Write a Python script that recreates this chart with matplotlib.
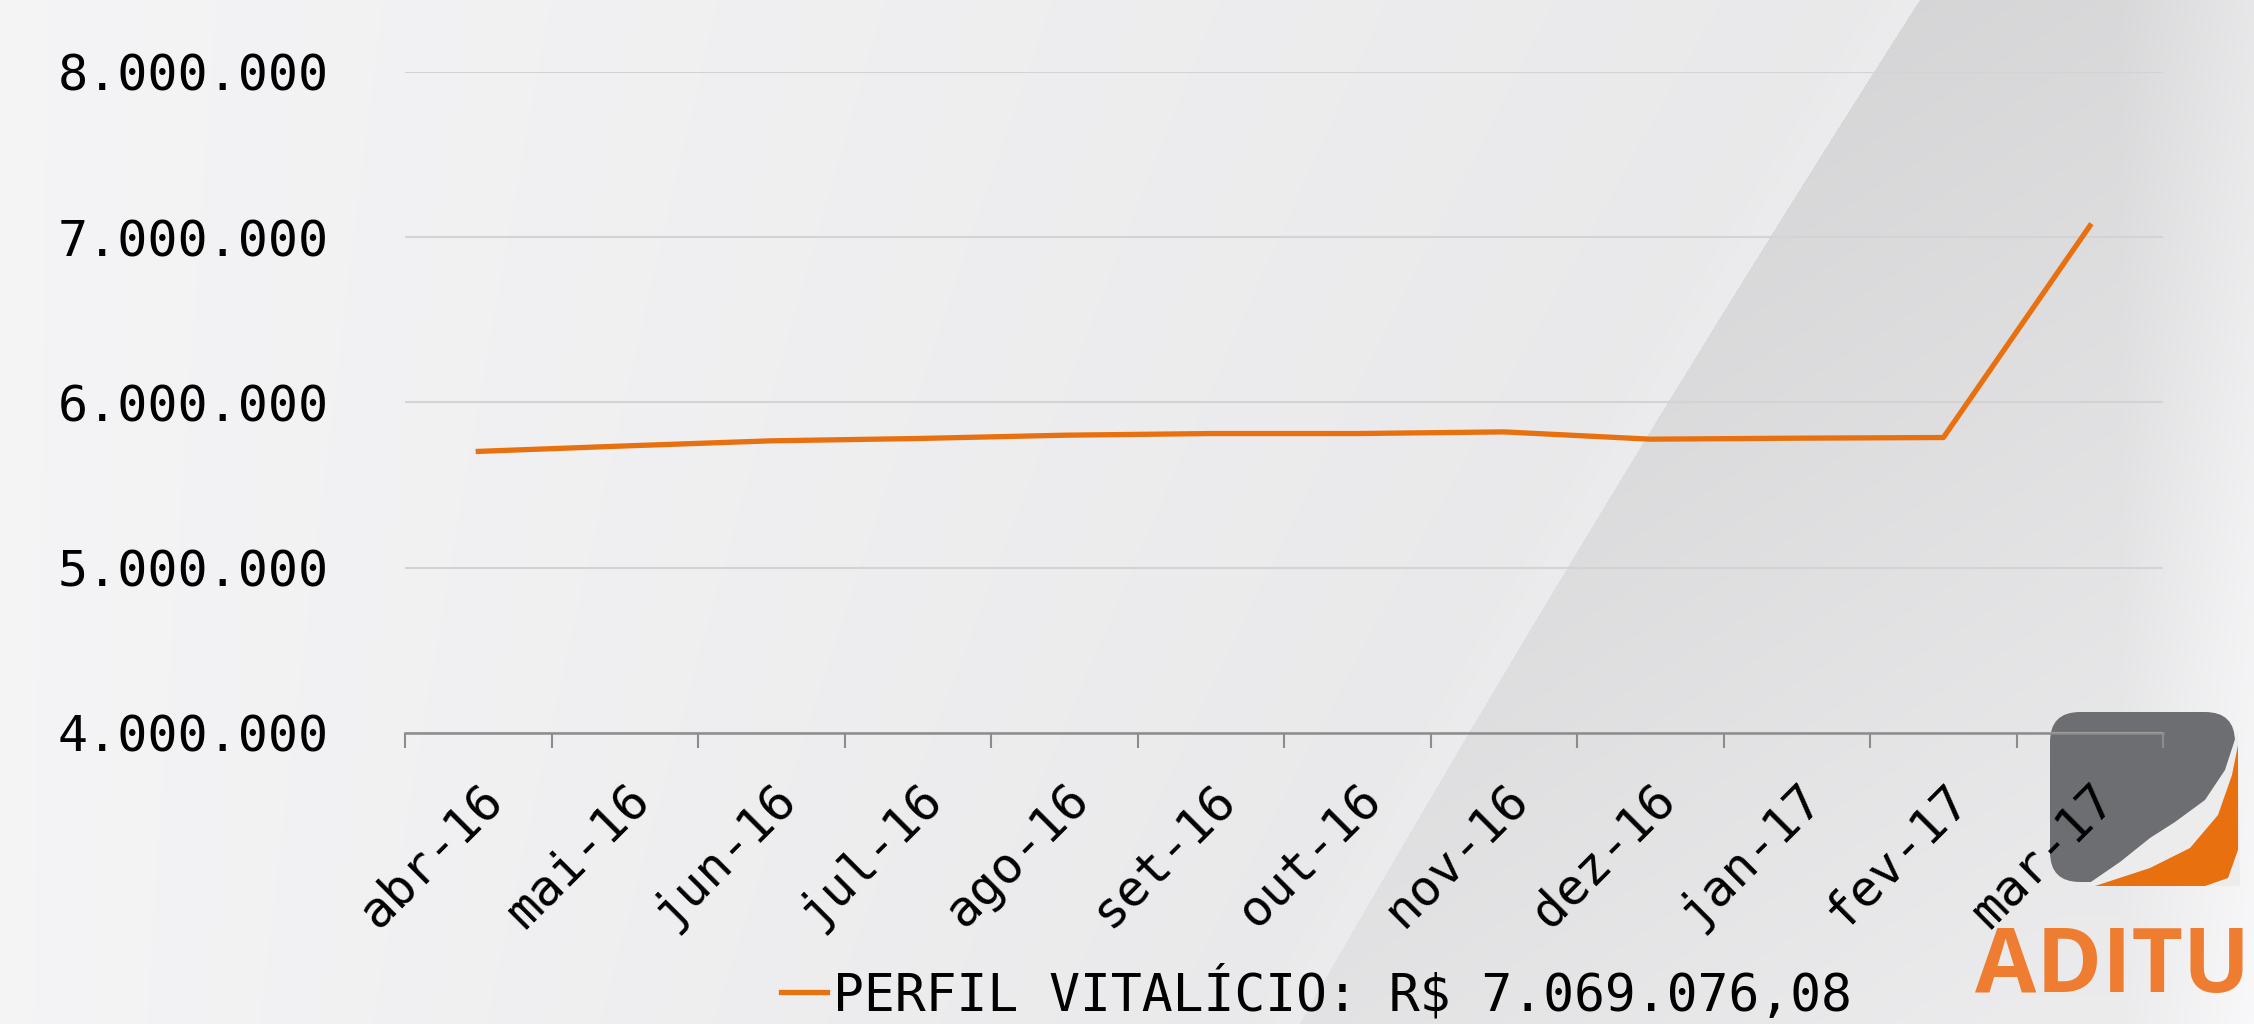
import numpy as np
import matplotlib
matplotlib.use('Agg')
import matplotlib.pyplot as plt
from matplotlib.patches import FancyBboxPatch, Polygon

# Dados
meses = ['abr-16', 'mai-16', 'jun-16', 'jul-16', 'ago-16', 'set-16',
         'out-16', 'nov-16', 'dez-16', 'jan-17', 'fev-17', 'mar-17']
valores = [5704000, 5737000, 5768000, 5782000, 5802000, 5812000,
           5812000, 5822000, 5778000, 5784000, 5788000, 7069076.08]
y_ticks = [4000000, 5000000, 6000000, 7000000, 8000000]
legenda = 'PERFIL VITALÍCIO: R$ 7.069.076,08'

laranja = '#e8700f'
fonte = 'DejaVu Sans Mono'

W, H = 2254, 1024
fig = plt.figure(figsize=(W / 100, H / 100), dpi=100)

# Fundo: degradê cinza com faixa diagonal mais escura à direita
bg = fig.add_axes([0, 0, 1, 1], zorder=-10)
bg.set_xlim(0, W)
bg.set_ylim(H, 0)
bg.axis('off')
yy, xx = np.mgrid[0:H, 0:W].astype(float)
coef = np.polyfit([0, 316, 575, 733, 1024], [1925, 1703, 1572, 1475, 1294], 2)
borda = np.polyval(coef, yy)
fora = 0.958 - 0.045 * np.clip(xx / borda, 0, 1)
brilho = 0.012 * np.exp(-((borda - xx) / 40.0) ** 2) * (xx < borda)
dentro = (0.838 + 0.05 * (yy / H)
          + 0.035 * np.clip((xx - borda) / 700, 0, 1)
          + 0.05 * np.clip((xx - 2120) / 130, 0, 1))
cinza = np.where(xx < borda, fora + brilho, dentro)
img = np.dstack([cinza, cinza, cinza + 0.006])
bg.imshow(np.clip(img, 0, 1), extent=[0, W, H, 0], aspect='auto')

# Logo ADITUS
logo = FancyBboxPatch((2050, 712), 185, 170,
                      boxstyle='round,pad=0,rounding_size=30',
                      facecolor='#6d6e71', edgecolor='none')
bg.add_patch(logo)
bg.add_patch(Polygon([(2085, 886), (2120, 862), (2150, 838), (2175, 822),
                      (2205, 800), (2225, 770), (2238, 730), (2240, 886)],
                     closed=True, facecolor='#ececed', edgecolor='none'))
bg.add_patch(Polygon([(2095, 886), (2150, 868), (2190, 848), (2218, 815),
                      (2232, 775), (2238, 745), (2238, 850), (2228, 878),
                      (2205, 886)],
                     closed=True, facecolor=laranja, edgecolor='none'))
bg.text(1975, 992, 'ADITUS', color='#ef7d31', fontsize=64,
        fontweight='bold', family='Open Sans', ha='left', va='baseline')

# Gráfico
ax = fig.add_axes([0.1797, 0.2842, 0.78, 0.6455])
ax.patch.set_alpha(0)
x = np.arange(len(meses))
ax.plot(x, valores, color=laranja, linewidth=3.8, label=legenda)

ax.set_xlim(-0.5, len(meses) - 0.5)
ax.set_ylim(y_ticks[0], y_ticks[-1])
ax.set_yticks(y_ticks)
ax.set_yticklabels([f'{v:,}'.replace(',', '.') for v in y_ticks],
                   fontsize=36, family=fonte)
ax.set_xticks(x)
ax.set_xticklabels(meses, fontsize=36, family=fonte, rotation=45,
                   ha='right', rotation_mode='anchor')
ax.set_xticks(np.arange(-0.5, len(meses)), minor=True)
ax.tick_params(axis='x', which='major', length=0, pad=30)
ax.tick_params(axis='x', which='minor', length=11, width=1.5, color='#8c8c8c')
ax.tick_params(axis='y', length=0, pad=55)

ax.grid(axis='y', color='#d3d3d5', linewidth=1.5)
ax.set_axisbelow(True)
for s in ['top', 'right', 'left']:
    ax.spines[s].set_visible(False)
ax.spines['bottom'].set_color('#8c8c8c')
ax.spines['bottom'].set_linewidth(1.8)

fig.legend(loc='center', bbox_to_anchor=(0.584, 0.03), frameon=False,
           prop={'family': fonte, 'size': 37}, handlelength=0.9,
           handletextpad=0.12)

fig.savefig('out.png', dpi=100)
